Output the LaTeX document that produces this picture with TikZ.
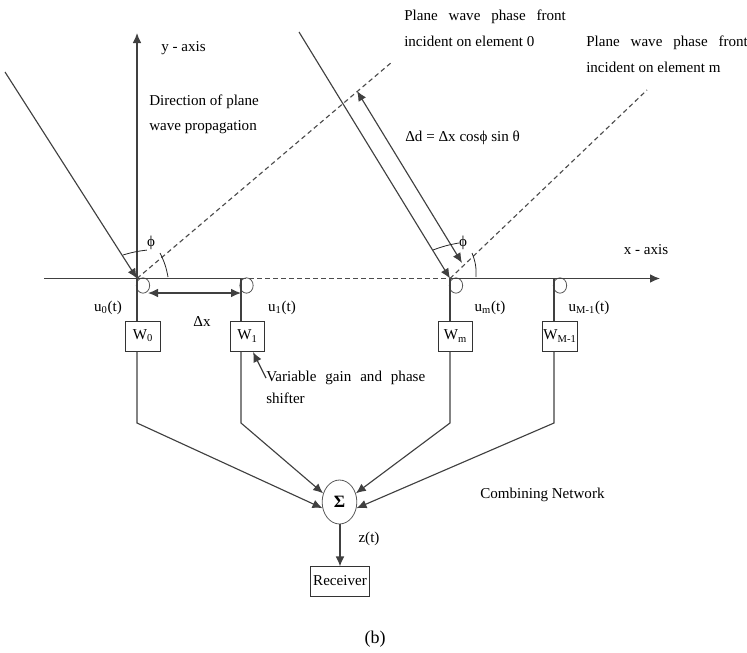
\documentclass[tikz,border=0pt]{standalone}
\usepackage{fontspec}
\usepackage{tikz}
\usetikzlibrary{shapes.geometric,arrows.meta}
\setmainfont{Liberation Serif}
\tikzset{
	>={Latex[length=7.5pt,width=6.5pt]},
	wire/.style = {draw=black!75, line width=0.85pt},
	front/.style = {draw=black!70, line width=0.85pt, dash pattern=on 3.5pt off 2.5pt},
	anglemark/.style = {draw=black!85, line width=0.6pt},
	gain/.style = {draw=black!80, line width=0.6pt, minimum width=26pt, minimum height=22pt, inner sep=0pt, fill=white},
	elem/.style = {ellipse, draw=black!65, line width=0.6pt, minimum width=10pt, minimum height=11.5pt, inner sep=0pt},
	lab/.style = {font=\fontsize{11.3}{13}\selectfont, inner sep=0pt}
}
\begin{document}
\begin{tikzpicture}[x=0.75pt, y=-0.75pt]
		\useasboundingbox (0,0) rectangle (747,653);

		\coordinate (x0) at (44,278.5);
		\coordinate (x1) at (660,278.5);
		\coordinate (y1) at (137,33);
		\coordinate (a0) at (137,278.5);
		\coordinate (a1) at (241,278.5);
		\coordinate (am) at (450,278.5);
		\coordinate (al) at (554,278.5);

		\draw (143,285.5) node[elem] (e0) {};
		\draw (246.5,285.5) node[elem] (e1) {};
		\draw (456,285.5) node[elem] (em) {};
		\draw (560,285.5) node[elem] (el) {};

		\draw (143,336.5) node[gain] (w0) {};
		\draw (247.5,336.5) node[gain] (w1) {};
		\draw (455.5,336.5) node[gain] (wm) {};
		\draw (560,336.5) node[gain] (wl) {};
		\draw (143,336) node[lab] (w0t) {W\textsubscript{0}};
		\draw (247.5,336) node[lab] (w1t) {W\textsubscript{1}};
		\draw (455.5,336) node[lab] (wmt) {W\textsubscript{m}};
		\draw (560,336) node[lab] (wlt) {W\textsubscript{M-1}};

		\draw (339.5,502) node[ellipse, draw=black!65, line width=0.6pt, minimum width=26pt, minimum height=33pt, inner sep=0pt, font=\fontsize{13}{15}\selectfont] (sum) {\textbf{Σ}};
		\draw (340,581.5) node[gain, minimum width=44pt] (recv) {};
		\draw (340,581) node[lab] (recvt) {Receiver};

		% axes
		\draw [wire] (x0) -- (a1);
		\draw [front] (a1) -- (am);
		\draw [wire, ->] (am) -- (x1);
		\draw [wire, ->] (a0) -- (y1);

		% to the weights
		\draw [wire] (a0) -- (w0.north -| a0);
		\draw [wire] (a1) -- (w1.north -| a1);
		\draw [wire] (am) -- (wm.north -| am);
		\draw [wire] (al) -- (wl.north -| al);

		\coordinate (b0) at (137,423);
		\coordinate (b1) at (241,423);
		\coordinate (bm) at (450,423);
		\coordinate (bl) at (554,423);
		\draw [wire, ->] (w0.south -| a0) -- (b0) -- (sum.200);
		\draw [wire, ->] (w1.south -| a1) -- (b1) -- (sum.152);
		\draw [wire, ->] (wm.south -| am) -- (bm) -- (sum.28);
		\draw [wire, ->] (wl.south -| al) -- (bl) -- (sum.340);
		\draw [wire, ->] (sum.south -| a1 -| recv.north) -- (recv.north);

		% incident rays and phase fronts
		\coordinate (r0) at (5,72);
		\coordinate (rm) at (299,32);
		\coordinate (f0) at (392,62);
		\coordinate (fm) at (647,90);
		\draw [wire, ->] (r0) -- (a0);
		\draw [wire, ->] (rm) -- (am);
		\draw [front] (a0) -- (f0);
		\draw [front] (am) -- (fm);

		\coordinate (d0) at (357,91);
		\coordinate (d1) at (462,263);
		\draw [wire, <->] (d0) -- (d1);
		\coordinate (dx0) at (148,293);
		\coordinate (dx1) at (241,293);
		\draw [wire, <->] (dx0) -- (dx1);

		% angle marks
		\draw (151,243) node[lab] (phi0) {ϕ};
		\draw (463,243) node[lab] (phim) {ϕ};
		\coordinate (p0) at (123,255);
		\coordinate (pm) at (433,250);
		\draw [anglemark] (p0) to[bend left=5] (phi0.south west);
		\draw [anglemark] (pm) to[bend left=5] (phim.west);
		\coordinate (q0) at (160,253);
		\coordinate (q0b) at (168,277);
		\coordinate (qm) at (472,253);
		\coordinate (qmb) at (476,277);
		\draw [anglemark] (q0) to[bend left=8] (q0b);
		\draw [anglemark] (qm) to[bend left=12] (qmb);

		% variable gain pointer
		\draw (266,378) node[lab, anchor=west] (vg) {Variable\hspace{6.7pt}gain\hspace{6.7pt}and\hspace{6.7pt}phase};
		\draw (266,398) node[lab, anchor=west] (sh) {shifter};
		\coordinate (vp) at (253,352);
		\draw [wire, ->] (vg.west) -- (vp);

		% labels
		\draw (183.5,48) node[lab] (ya) {y - axis};
		\draw (646,250) node[lab] (xa) {x - axis};
		\draw (149,102) node[lab, anchor=west] (dir1) {Direction of plane};
		\draw (149,127) node[lab, anchor=west] (dir2) {wave propagation};
		\draw (404,17) node[lab, anchor=west] (p01) {Plane\hspace{8.2pt}wave\hspace{8.2pt}phase\hspace{8.2pt}front};
		\draw (404,41) node[lab, anchor=west] (p02) {incident on element 0};
		\draw (586,43) node[lab, anchor=west] (pm1) {Plane\hspace{8.2pt}wave\hspace{8.2pt}phase\hspace{8.2pt}front};
		\draw (586,67) node[lab, anchor=west] (pm2) {incident on element m};
		\draw (405,138) node[lab, anchor=west] (dd) {Δd = Δx cosϕ sin θ};
		\draw (202,322) node[lab] (dx) {Δx};
		\draw (108,308) node[lab] (u0) {u\textsubscript{0}(t)};
		\draw (282,308) node[lab] (u1) {u\textsubscript{1}(t)};
		\draw (490,308) node[lab] (um) {u\textsubscript{m}(t)};
		\draw (589,308) node[lab] (ul) {u\textsubscript{M-1}(t)};
		\draw (480,495) node[lab, anchor=west] (cn) {Combining Network};
		\draw (369,539) node[lab] (zt) {z(t)};
		\draw (375,639) node[font=\fontsize{13.5}{15}\selectfont, inner sep=0pt] (cap) {(b)};
	\end{tikzpicture}
\end{document}
